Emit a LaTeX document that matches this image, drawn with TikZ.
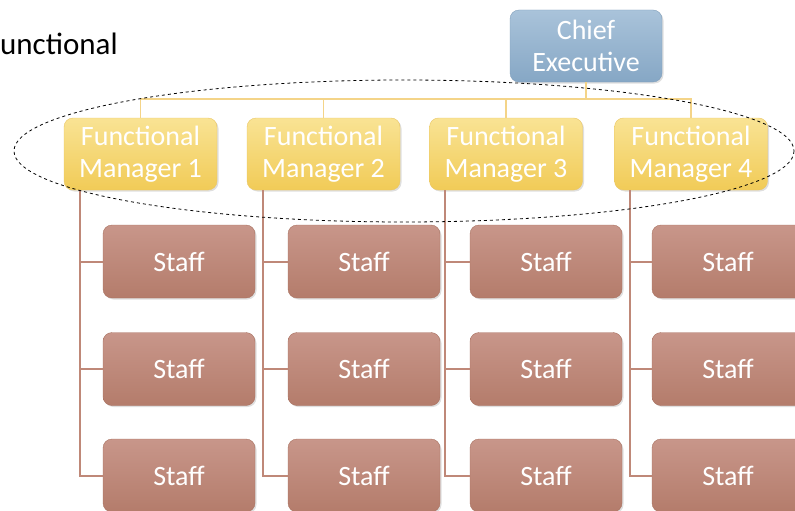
\documentclass[tikz,border=0pt]{standalone}
\usepackage{fontspec}
\setmainfont{Carlito}
\usetikzlibrary{shadows}
\definecolor{chieftop}{HTML}{A9C3DA}
\definecolor{chiefbot}{HTML}{86A7C5}
\definecolor{chiefline}{HTML}{819FBB}
\definecolor{mgrtop}{HTML}{F9E394}
\definecolor{mgrbot}{HTML}{F1CB57}
\definecolor{mgrline}{HTML}{EAC665}
\definecolor{stafftop}{HTML}{C8968A}
\definecolor{staffbot}{HTML}{B47C6B}
\definecolor{staffline}{HTML}{A97261}
\definecolor{mgrwire}{HTML}{F4D488}
\definecolor{staffwire}{HTML}{BF8878}

\begin{document}
\begin{tikzpicture}[
  x=1pt, y=-1pt,
  box/.style={rounded corners=9pt, text=white, align=center, inner sep=0pt,
    font=\fontsize{28}{32}\selectfont,
    drop shadow={opacity=0.25, shadow xshift=1.5pt, shadow yshift=-1.5pt}},
  chiefbox/.style={box, minimum width=152pt, minimum height=72pt,
    top color=chieftop, bottom color=chiefbot, draw=chiefline},
  mgrbox/.style={box, minimum width=153pt, minimum height=72pt,
    top color=mgrtop, bottom color=mgrbot, draw=mgrline},
  staffbox/.style={box, minimum width=152pt, minimum height=73pt,
    top color=stafftop, bottom color=staffbot, draw=staffline},
  mgrlink/.style={draw=mgrwire, line width=1.5pt},
  stafflink/.style={draw=staffwire, line width=2pt}
]
\clip (0,0) rectangle (795,511);

\node[anchor=base west, inner sep=0pt, font=\fontsize{31}{36}\selectfont] (title) at (0,55) {unctional};

% top of the chart
\node[chiefbox] (chief) at (586,46) {Chief\\Executive};
\node[mgrbox] (m1) at (140.5,154) {Functional\\Manager 1};
\node[mgrbox] (m2) at (323.5,154) {Functional\\Manager 2};
\node[mgrbox] (m3) at (506,154) {Functional\\Manager 3};
\node[mgrbox] (m4) at (691,154) {Functional\\Manager 4};

\coordinate (bus) at (586,99);
\draw[mgrlink] (chief.south) -- (bus);
\draw[mgrlink] (bus) -| (m1.north);
\draw[mgrlink] (bus) -| (m2.north);
\draw[mgrlink] (bus) -| (m3.north);
\draw[mgrlink] (bus) -| (m4.north);

% staff
\node[staffbox] (s11) at (179,261.5) {Staff};
\node[staffbox] (s12) at (179,369) {Staff};
\node[staffbox] (s13) at (179,475.5) {Staff};
\node[staffbox] (s21) at (364,261.5) {Staff};
\node[staffbox] (s22) at (364,369) {Staff};
\node[staffbox] (s23) at (364,475.5) {Staff};
\node[staffbox] (s31) at (546,261.5) {Staff};
\node[staffbox] (s32) at (546,369) {Staff};
\node[staffbox] (s33) at (546,475.5) {Staff};
\node[staffbox] (s41) at (728,261.5) {Staff};
\node[staffbox] (s42) at (728,369) {Staff};
\node[staffbox] (s43) at (728,475.5) {Staff};

\draw[stafflink] ([xshift=16pt]m1.south west) |- (s11.west);
\draw[stafflink] ([xshift=16pt]m1.south west) |- (s12.west);
\draw[stafflink] ([xshift=16pt]m1.south west) |- (s13.west);
\draw[stafflink] ([xshift=16pt]m2.south west) |- (s21.west);
\draw[stafflink] ([xshift=16pt]m2.south west) |- (s22.west);
\draw[stafflink] ([xshift=16pt]m2.south west) |- (s23.west);
\draw[stafflink] ([xshift=16pt]m3.south west) |- (s31.west);
\draw[stafflink] ([xshift=16pt]m3.south west) |- (s32.west);
\draw[stafflink] ([xshift=16pt]m3.south west) |- (s33.west);
\draw[stafflink] ([xshift=16pt]m4.south west) |- (s41.west);
\draw[stafflink] ([xshift=16pt]m4.south west) |- (s42.west);
\draw[stafflink] ([xshift=16pt]m4.south west) |- (s43.west);

% the managers' group
\draw[dashed, line width=0.8pt] (404,151) ellipse [x radius=390, y radius=71];
\end{tikzpicture}
\end{document}
